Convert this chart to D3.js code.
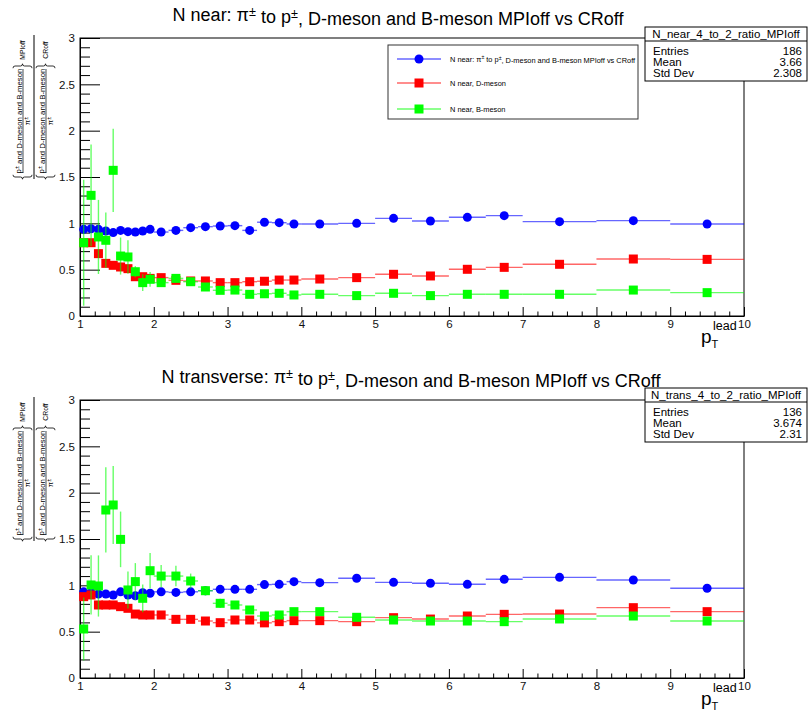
<!DOCTYPE html>
<html>
<head>
<meta charset="utf-8">
<script src="https://cdn.jsdelivr.net/npm/d3@7"></script>
<style>
  body { margin: 0; background: #fff; }
  text { font-family: "Liberation Sans", Arial, Helvetica, sans-serif; }
</style>
</head>
<body>
<svg id="chart" width="809" height="711"></svg>
<script>
// ---- binning in leading-particle pT ----
const binEdges = [1, 1.1, 1.2, 1.3, 1.4, 1.5, 1.6, 1.7, 1.8, 1.9, 2,
                  2.2, 2.4, 2.6, 2.8, 3, 3.2, 3.4, 3.6, 3.8, 4,
                  4.5, 5, 5.5, 6, 6.5, 7, 8, 9, 10];

// ---- N near: ratios MPIoff / CRoff ----
const nearPion = [0.935, 0.942, 0.935, 0.917, 0.900, 0.924, 0.910, 0.906, 0.917, 0.935,
                  0.906, 0.924, 0.953, 0.964, 0.971, 0.975, 0.924, 1.012, 1.007, 0.993,
                  0.993, 1.000, 1.054, 1.025, 1.065, 1.083, 1.018, 1.029, 0.993];
const nearPionErr = [0.02, 0.02, 0.02, 0.02, 0.02, 0.02, 0.02, 0.02, 0.02, 0.02,
                     0.01, 0.01, 0.01, 0.01, 0.01, 0.01, 0.01, 0.01, 0.01, 0.01,
                     0.01, 0.01, 0.01, 0.01, 0.01, 0.01, 0.01, 0.02, 0.03];
const nearD = [0.791, 0.791, 0.673, 0.568, 0.547, 0.529, 0.511, 0.424, 0.424, 0.406,
               0.414, 0.385, 0.378, 0.378, 0.360, 0.360, 0.370, 0.375, 0.388, 0.388,
               0.399, 0.414, 0.450, 0.432, 0.504, 0.525, 0.558, 0.615, 0.611];
const nearDErr = [0.03, 0.03, 0.02, 0.02, 0.02, 0.02, 0.02, 0.01, 0.01, 0.01,
                  0.01, 0.01, 0.01, 0.01, 0.01, 0.01, 0.01, 0.01, 0.01, 0.01,
                  0.01, 0.01, 0.01, 0.01, 0.01, 0.01, 0.01, 0.01, 0.01];
const nearB = [0.791, 1.302, 0.853, 0.817, 1.572, 0.647, 0.637, 0.478, 0.360, 0.396,
               0.360, 0.406, 0.370, 0.313, 0.277, 0.280, 0.234, 0.240, 0.245, 0.227,
               0.234, 0.220, 0.245, 0.220, 0.234, 0.234, 0.234, 0.280, 0.252];
const nearBErr = [0.68, 0.55, 0.40, 0.30, 0.45, 0.20, 0.18, 0.06, 0.09, 0.08,
                  0.04, 0.02, 0.02, 0.02, 0.02, 0.02, 0.01, 0.01, 0.01, 0.01,
                  0.01, 0.01, 0.01, 0.01, 0.01, 0.01, 0.01, 0.01, 0.01];

// ---- N transverse: ratios MPIoff / CRoff ----
const transPion = [0.930, 0.920, 0.906, 0.906, 0.896, 0.930, 0.896, 0.888, 0.920, 0.914,
                   0.930, 0.924, 0.930, 0.942, 0.957, 0.957, 0.957, 1.008, 1.011, 1.040,
                   1.029, 1.076, 1.032, 1.022, 1.011, 1.065, 1.086, 1.058, 0.968];
const transPionErr = [0.02, 0.02, 0.02, 0.02, 0.02, 0.02, 0.02, 0.02, 0.02, 0.02,
                      0.01, 0.01, 0.01, 0.01, 0.01, 0.01, 0.01, 0.01, 0.01, 0.01,
                      0.01, 0.01, 0.01, 0.01, 0.01, 0.01, 0.01, 0.02, 0.04];
const transD = [0.878, 0.896, 0.788, 0.788, 0.788, 0.770, 0.752, 0.690, 0.680, 0.680,
                0.680, 0.633, 0.633, 0.615, 0.597, 0.626, 0.626, 0.595, 0.608, 0.619,
                0.619, 0.608, 0.651, 0.636, 0.669, 0.687, 0.690, 0.759, 0.716];
const transDErr = [0.03, 0.03, 0.02, 0.02, 0.02, 0.02, 0.02, 0.01, 0.01, 0.01,
                   0.01, 0.01, 0.01, 0.01, 0.01, 0.01, 0.01, 0.01, 0.01, 0.01,
                   0.01, 0.01, 0.01, 0.01, 0.01, 0.01, 0.01, 0.01, 0.01];
const transB = [0.529, 1.004, 0.993, 1.813, 1.867, 1.496, 0.950, 1.040, 0.860, 1.158,
                1.100, 1.100, 1.047, 0.942, 0.806, 0.788, 0.734, 0.669, 0.680, 0.716,
                0.716, 0.655, 0.626, 0.615, 0.615, 0.608, 0.637, 0.669, 0.615];
const transBErr = [0.34, 0.32, 0.33, 0.46, 0.42, 0.30, 0.20, 0.20, 0.15, 0.19,
                   0.12, 0.11, 0.08, 0.05, 0.05, 0.04, 0.04, 0.03, 0.03, 0.03,
                   0.03, 0.02, 0.02, 0.02, 0.02, 0.02, 0.02, 0.02, 0.02];

// ---- axis ticks ----
const xMajorTicks = [1, 2, 3, 4, 5, 6, 7, 8, 9, 10];
const yMajorTicks = [0, 0.5, 1, 1.5, 2, 2.5, 3];

// ---- text ----
const legendLabels = ["N near: π± to p±, D-meson and B-meson MPIoff vs CRoff",
                      "N near, D-meson", "N near, B-meson"];
const statsNear = { name: "N_near_4_to_2_ratio_MPIoff", entries: "186", mean: "3.66", std: "2.308" };
const statsTrans = { name: "N_trans_4_to_2_ratio_MPIoff", entries: "136", mean: "3.674", std: "2.31" };

const BLUE = "#0000ff", RED = "#ff0000", GREEN = "#00ff00";
const svg = d3.select("#chart");

const X0 = 80, X1 = 744;
const xMinorTicks = d3.range(1, 10.001, 0.2).map(v => +v.toFixed(2)).filter(v => Math.abs(v - Math.round(v)) > 1e-6);
const yMinorTicks = d3.range(0, 3.001, 0.1).map(v => +v.toFixed(2)).filter(v => Math.abs(v * 2 - Math.round(v * 2)) > 1e-6);

function addPlusMinusText(sel, base) {
  // text with every ± raised as a small superscript
  const parts = base.split("±");
  let lift = false;
  parts.forEach((p, i) => {
    if (p.length) {
      const t = sel.append("tspan").text(p);
      if (lift) { t.attr("dy", "0.4em"); lift = false; }
    } else if (lift) {
      // nothing follows; leave baseline shifted
    }
    if (i < parts.length - 1) {
      sel.append("tspan").attr("dy", lift ? "0" : "-0.4em").attr("font-size", "0.7em").text("±");
      lift = true;
    }
  });
}

function brace(g, u, v0, v1, dir) {
  // curly brace in the rotated label frame; dir=+1 opens toward +u
  const vm = (v0 + v1) / 2, d = 2.2 * dir;
  g.append("path")
    .attr("d", `M${u + d},${v0} Q${u},${v0} ${u},${v0 + 2} L${u},${vm - 2} Q${u},${vm} ${u - d},${vm} Q${u},${vm} ${u},${vm + 2} L${u},${v1 - 2} Q${u},${v1} ${u + d},${v1}`)
    .attr("fill", "none").attr("stroke", "#000").attr("stroke-width", 0.8);
}

function yLabel(yc) {
  const g = svg.append("g").attr("transform", `translate(0,${yc}) rotate(-90)`);
  const fs = 7.8;
  const cols = [{ v: 21, sub: "MPIoff", base: 13 }, { v: 44, sub: "CRoff", base: 36 }];
  cols.forEach(c => {
    const t = g.append("text").attr("x", -14).attr("y", c.v).attr("text-anchor", "middle")
      .attr("font-size", fs);
    addPlusMinusText(t, "p± and D-meson and B-meson");
    g.append("line").attr("x1", -66).attr("x2", 38).attr("y1", c.v + 2).attr("y2", c.v + 2)
      .attr("stroke", "#000").attr("stroke-width", 0.7);
    const d = g.append("text").attr("x", -14).attr("y", c.v + 9).attr("text-anchor", "middle")
      .attr("font-size", fs);
    addPlusMinusText(d, "π±");
    brace(g, -70, c.base, c.base + 19, 1);
    brace(g, 41, c.base, c.base + 19, -1);
    g.append("text").attr("x", 57).attr("y", c.v + 4).attr("text-anchor", "middle")
      .attr("font-size", 6.8).text(c.sub);
  });
  g.append("line").attr("x1", -72).attr("x2", 72).attr("y1", 34).attr("y2", 34)
    .attr("stroke", "#000").attr("stroke-width", 1);
}

function drawMarker(g, shape, cx, cy, color) {
  if (shape === "circle") {
    g.append("circle").attr("cx", cx).attr("cy", cy).attr("r", 4.5).attr("fill", color);
  } else {
    g.append("rect").attr("x", cx - 4.5).attr("y", cy - 4.5).attr("width", 9).attr("height", 9).attr("fill", color);
  }
}

function drawPanel(cfg) {
  const x = d3.scaleLinear().domain([1, 10]).range([X0, X1]);
  const y = d3.scaleLinear().domain([0, 3]).range([cfg.bottom, cfg.top]);
  const g = svg.append("g");

  // title
  const title = g.append("text").attr("x", cfg.titleX).attr("y", cfg.top - 17)
    .attr("text-anchor", "middle").attr("font-size", 18).attr("fill", "#000");
  addPlusMinusText(title, cfg.title);

  // frame
  g.append("rect").attr("x", X0).attr("y", cfg.top).attr("width", X1 - X0)
    .attr("height", cfg.bottom - cfg.top).attr("fill", "none").attr("stroke", "#000");

  // x axis, ticks pointing into the frame
  g.append("g").attr("transform", `translate(0,${cfg.bottom})`)
    .call(d3.axisBottom(x).tickValues(xMajorTicks).tickSizeInner(-9).tickSizeOuter(0)
      .tickPadding(4).tickFormat(d3.format("~g")));
  g.append("g").attr("transform", `translate(0,${cfg.bottom})`)
    .call(d3.axisBottom(x).tickValues(xMinorTicks).tickSizeInner(-4.5).tickSizeOuter(0).tickFormat(""))
    .select(".domain").remove();
  // y axis
  g.append("g").attr("transform", `translate(${X0},0)`)
    .call(d3.axisLeft(y).tickValues(yMajorTicks).tickSizeInner(-20).tickSizeOuter(0)
      .tickPadding(5).tickFormat(d3.format("~g")));
  g.append("g").attr("transform", `translate(${X0},0)`)
    .call(d3.axisLeft(y).tickValues(yMinorTicks).tickSizeInner(-10).tickSizeOuter(0).tickFormat(""))
    .select(".domain").remove();
  g.selectAll(".tick text").attr("font-size", 11.5).attr("font-family", "Liberation Sans, Arial, sans-serif").attr("fill", "#111");
  g.selectAll(".tick line, .domain").attr("stroke", "#000");

  // axis title p_T^lead
  const at = g.append("text").attr("x", 701).attr("y", cfg.bottom + 27).attr("font-size", 19);
  at.append("tspan").text("p");
  at.append("tspan").attr("font-size", 11).attr("dy", 5).text("T");
  g.append("text").attr("x", 713).attr("y", cfg.bottom + 14).attr("font-size", 12.5).text("lead");

  // y title
  yLabel(cfg.top + 69);

  // data: horizontal bin-width bars, vertical error bars, markers
  const plot = g.append("g");
  cfg.series.forEach(s => {
    const sg = plot.append("g");
    s.values.forEach((v, i) => {
      const xl = x(binEdges[i]), xr = x(binEdges[i + 1]), xc = (xl + xr) / 2, yc = y(v);
      sg.append("line").attr("x1", xl).attr("x2", xr).attr("y1", yc).attr("y2", yc)
        .attr("stroke", s.color).attr("stroke-width", 1.4).attr("stroke-opacity", 0.6);
      sg.append("line").attr("x1", xc).attr("x2", xc)
        .attr("y1", y(v - s.err[i])).attr("y2", y(v + s.err[i]))
        .attr("stroke", s.color).attr("stroke-width", 1.4).attr("stroke-opacity", 0.6);
      drawMarker(sg, s.shape, xc, yc, s.color);
    });
  });

  // stats box
  const sb = cfg.stats, st = cfg.statsTop;
  const sg = g.append("g");
  sg.append("rect").attr("x", 645).attr("y", st).attr("width", 162).attr("height", 54)
    .attr("fill", "#fff").attr("stroke", "#000");
  sg.append("line").attr("x1", 645).attr("x2", 807).attr("y1", st + 14).attr("y2", st + 14).attr("stroke", "#000");
  sg.append("text").attr("x", 726).attr("y", st + 11).attr("text-anchor", "middle")
    .attr("font-size", 11.5).text(sb.name);
  [["Entries", sb.entries], ["Mean", sb.mean], ["Std Dev", sb.std]].forEach((r, k) => {
    const yy = st + 28 + k * 11;
    sg.append("text").attr("x", 653).attr("y", yy).attr("font-size", 11.5).text(r[0]);
    sg.append("text").attr("x", 802).attr("y", yy).attr("font-size", 11.5).attr("text-anchor", "end").text(r[1]);
  });
}

drawPanel({
  top: 38, bottom: 316, titleX: 398, statsTop: 27, stats: statsNear,
  title: "N near: π± to p±, D-meson and B-meson MPIoff vs CRoff",
  series: [
    { values: nearPion, err: nearPionErr, color: BLUE, shape: "circle" },
    { values: nearD, err: nearDErr, color: RED, shape: "square" },
    { values: nearB, err: nearBErr, color: GREEN, shape: "square" }
  ]
});
drawPanel({
  top: 400, bottom: 678, titleX: 411, statsTop: 388, stats: statsTrans,
  title: "N transverse: π± to p±, D-meson and B-meson MPIoff vs CRoff",
  series: [
    { values: transPion, err: transPionErr, color: BLUE, shape: "circle" },
    { values: transD, err: transDErr, color: RED, shape: "square" },
    { values: transB, err: transBErr, color: GREEN, shape: "square" }
  ]
});

// legend (near panel)
const lg = svg.append("g");
lg.append("rect").attr("x", 388).attr("y", 45).attr("width", 250).attr("height", 74)
  .attr("fill", "#fff").attr("stroke", "#333");
const legendItems = [
  { label: legendLabels[0], color: BLUE, shape: "circle", y: 59 },
  { label: legendLabels[1], color: RED, shape: "square", y: 83 },
  { label: legendLabels[2], color: GREEN, shape: "square", y: 109 }
];
legendItems.forEach(it => {
  lg.append("line").attr("x1", 397).attr("x2", 441).attr("y1", it.y).attr("y2", it.y)
    .attr("stroke", it.color).attr("stroke-width", 1.4).attr("stroke-opacity", 0.6);
  drawMarker(lg, it.shape, 419, it.y, it.color);
  const t = lg.append("text").attr("x", 450).attr("y", it.y + 2.5).attr("font-size", 7.4);
  addPlusMinusText(t, it.label);
});
</script>
</body>
</html>
